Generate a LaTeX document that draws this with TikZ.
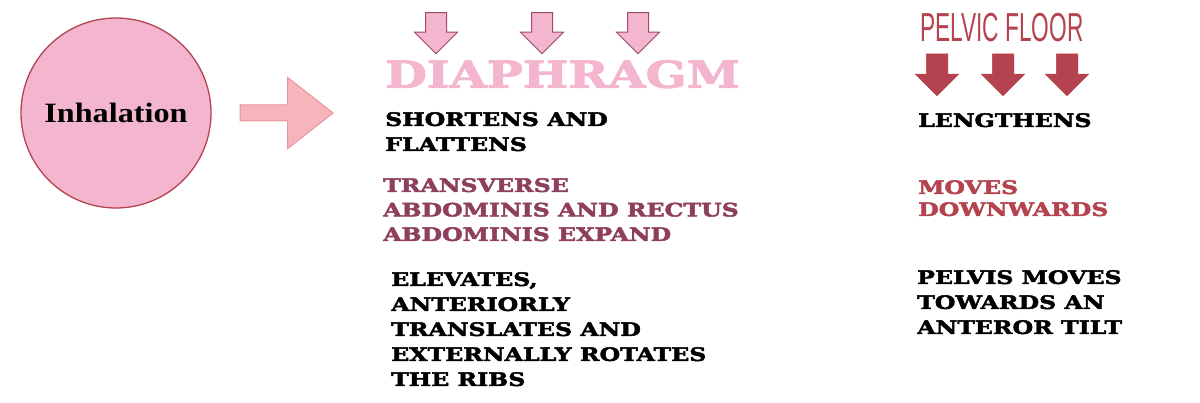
\documentclass[tikz,border=0pt]{standalone}
\usepackage{fontspec}
\usepackage{tikz}
\usetikzlibrary{shapes,arrows,positioning}

\newfontfamily\slabfont[FakeStretch=1.28, FakeBold=2.6]{DejaVu Serif Bold}
\newfontfamily\bigslabfont[FakeStretch=1.3, FakeBold=2.6]{DejaVu Serif Bold}
\newfontfamily\condfont[FakeStretch=0.56]{Liberation Sans}
\newfontfamily\bookfont[FakeStretch=1.15]{Liberation Serif Bold}

\definecolor{softpink}{HTML}{F4B6CF}
\definecolor{salmonpink}{HTML}{F7B4BA}
\definecolor{salmonline}{HTML}{E6969E}
\definecolor{mauve}{HTML}{8E3F5E}
\definecolor{plumline}{HTML}{9E4A6A}
\definecolor{brickred}{HTML}{B5434F}

\begin{document}
\begin{tikzpicture}[x=1pt, y=1pt]
% Define styles
\tikzstyle{bubble} = [circle, minimum size=190pt, inner sep=0pt, draw=brickred, line width=1.3pt, fill=softpink, font=\bookfont\fontsize{28}{30}\selectfont]
\tikzstyle{bigarrow} = [single arrow, draw=salmonline, fill=salmonpink, line width=1pt, inner sep=7.5pt, minimum height=93pt, single arrow head extend=27.5pt, single arrow tip angle=76]
\tikzstyle{diadown} = [single arrow, draw=plumline, fill=softpink, line width=1pt, inner sep=10pt, minimum height=41pt, single arrow head extend=11pt, single arrow tip angle=90, rotate=-90]
\tikzstyle{pfdown} = [single arrow, draw=brickred, fill=brickred, line width=0.5pt, inner sep=10.5pt, minimum height=42pt, single arrow head extend=11pt, single arrow tip angle=90, rotate=-90]
\tikzstyle{heading} = [anchor=north west, inner sep=0pt, font=\bigslabfont\fontsize{37}{40}\selectfont, text=softpink]
\tikzstyle{pfheading} = [anchor=north west, inner sep=0pt, font=\condfont\fontsize{40.5}{42}\selectfont, text=brickred]
\tikzstyle{blackbody} = [anchor=north west, inner sep=0pt, align=left, font=\slabfont\fontsize{18.5}{25}\selectfont, text=black]
\tikzstyle{mauvebody} = [anchor=north west, inner sep=0pt, align=left, font=\slabfont\fontsize{18.5}{24.5}\selectfont, text=mauve]
\tikzstyle{redbody} = [anchor=north west, inner sep=0pt, align=left, font=\slabfont\fontsize{18.5}{22}\selectfont, text=brickred]

\useasboundingbox (0,0) rectangle (1200,402);

% Create nodes
\node (inhale) [bubble] at (116,289) {Inhalation};
\node (inarrow) [bigarrow] at (281.5,289) {};

% Diaphragm column
\node (diaarrow1) [diadown] at (436,374) {};
\node (diaarrow2) [diadown] at (542,374) {};
\node (diaarrow3) [diadown] at (638,374) {};
\node (diaphragm) [heading] at (385,342) {DIAPHRAGM};
\node (dia_shorten) [blackbody] at (385,290) {SHORTENS AND\\FLATTENS};
\node (dia_abdo) [mauvebody] at (383,224) {TRANSVERSE\\ABDOMINIS AND RECTUS\\ABDOMINIS EXPAND};
\node (dia_ribs) [blackbody] at (391,130) {ELEVATES,\\ANTERIORLY\\TRANSLATES AND\\EXTERNALLY ROTATES\\THE RIBS};

% Pelvic floor column
\node (pelvic) [pfheading] at (920,389) {PELVIC FLOOR};
\node (pfarrow1) [pfdown] at (937,332.5) {};
\node (pfarrow2) [pfdown] at (1003,332.5) {};
\node (pfarrow3) [pfdown] at (1067,332.5) {};
\node (pf_lengthen) [blackbody] at (918,289) {LENGTHENS};
\node (pf_down) [redbody] at (918,222) {MOVES\\DOWNWARDS};
\node (pf_tilt) [blackbody] at (917,132) {PELVIS MOVES\\TOWARDS AN\\ANTEROR TILT};
\end{tikzpicture}
\end{document}
